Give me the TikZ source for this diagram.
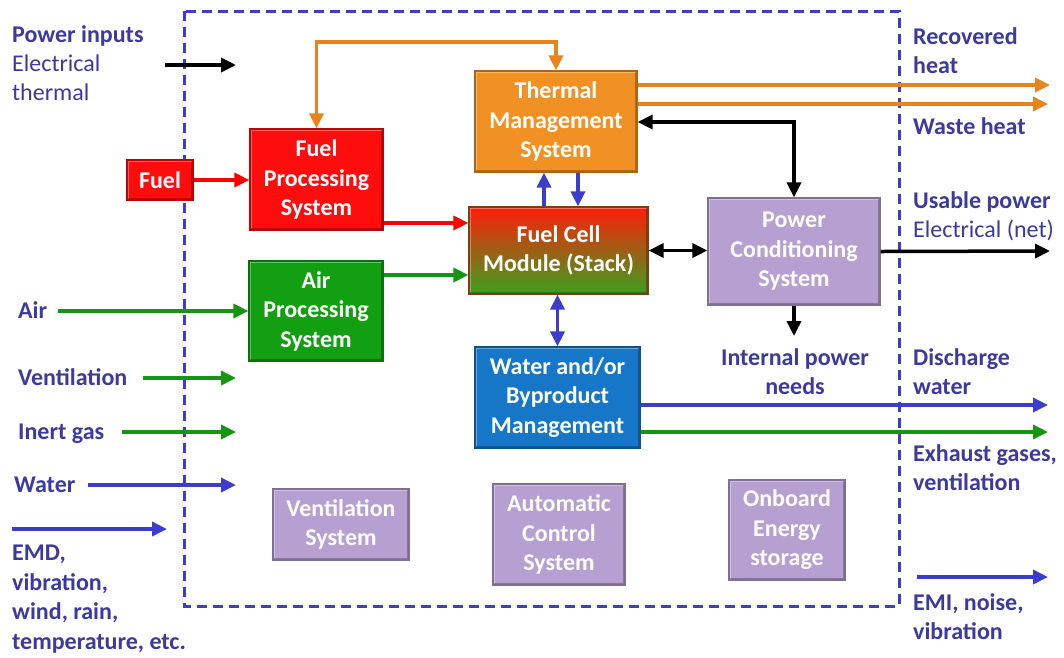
\documentclass[tikz,border=0pt]{standalone}
\usepackage{fontspec}
\setmainfont{Carlito}
\usetikzlibrary{arrows.meta}
\definecolor{lbl}{RGB}{58,58,160}
\definecolor{dashc}{RGB}{60,60,210}
\definecolor{bluearr}{RGB}{60,60,205}
\definecolor{grn}{RGB}{20,150,20}
\definecolor{org}{RGB}{232,132,30}
\definecolor{redbox}{RGB}{255,12,12}
\definecolor{grnbox}{RGB}{18,160,18}
\definecolor{orgbox}{RGB}{242,145,35}
\definecolor{bluebox}{RGB}{22,118,200}
\definecolor{lav}{RGB}{182,160,210}
\definecolor{fcmtop}{RGB}{255,30,10}
\definecolor{fcmmid}{RGB}{205,105,20}
\definecolor{fcmbot}{RGB}{60,160,30}
\tikzset{
 bevel/.style={path picture={
   \draw[white,opacity=0.35,line width=4pt]
     (path picture bounding box.south west) -- (path picture bounding box.north west)
     -- (path picture bounding box.north east);
   \draw[black,opacity=0.25,line width=4pt]
     (path picture bounding box.north east) -- (path picture bounding box.south east)
     -- (path picture bounding box.south west);}},
 boxtext/.style={text=white, font=\fontsize{24}{29.5}\selectfont\bfseries, align=center, inner sep=0pt},
 box/.style={boxtext, draw=#1!70!black, fill=#1, line width=1.2pt, bevel},
 fcmbox/.style={boxtext, draw=fcmmid!60!black, line width=1.2pt, top color=fcmtop, middle color=fcmmid, bottom color=fcmbot, bevel},
 lab/.style={text=lbl, font=\fontsize{24}{29.2}\selectfont\bfseries, align=left, anchor=base west, inner sep=0pt},
 labc/.style={lab, align=center, anchor=base},
 arr/.style={line width=3.5pt, -{Triangle[length=15pt,width=14pt]}},
 darr/.style={line width=3.5pt, {Triangle[length=15pt,width=14pt]}-{Triangle[length=15pt,width=14pt]}},
}
\begin{document}
\begin{tikzpicture}[x=1pt,y=-1pt]
\useasboundingbox[fill=white] (0,0) rectangle (1064,657);
% dashed frame
\draw[dashc, line width=3pt, dash pattern=on 10pt off 6pt] (184,11) rectangle (899,606);

% boxes
\node[box=redbox, minimum width=66pt, minimum height=40pt] (fuel) at (160,180) {Fuel};
\node[box=redbox, minimum width=133pt, minimum height=101pt] (fps) at (316.5,179.5) {Fuel\\Processing\\System};
\node[box=orgbox, minimum width=162pt, minimum height=101pt] (tms) at (556,121.5) {Thermal\\Management\\System};
\node[fcmbox, minimum width=179pt, minimum height=87pt] (fcm) at (558.5,250.5) {Fuel Cell\\Module (Stack)};
\node[box=grnbox, minimum width=134pt, minimum height=100pt] (aps) at (316,311) {Air\\Processing\\System};
\node[box=lav, minimum width=172pt, minimum height=107pt] (pcs) at (794,251.5) {Power\\Conditioning\\System};
\node[box=bluebox, minimum width=165pt, minimum height=101pt] (wbm) at (557.5,397.5) {Water and/or\\Byproduct\\Management};
\node[box=lav, minimum width=136pt, minimum height=71pt] (vs) at (341,524.5) {Ventilation\\System};
\node[box=lav, minimum width=132pt, minimum height=101pt] (acs) at (559,534.5) {Automatic\\Control\\System};
\node[box=lav, minimum width=116pt, minimum height=100pt] (oes) at (787,530) {Onboard\\Energy\\storage};

% labels (base anchor = baseline of last line)
\node[lab] (lpow) at (12,100.5) {Power inputs\\\mdseries Electrical\\\mdseries thermal};
\node[lab] (lrec) at (913,73.5) {Recovered\\heat};
\node[lab] (lwaste) at (913,134.5) {Waste heat};
\node[lab] (luse) at (913,237.5) {Usable power\\\mdseries Electrical (net)};
\node[lab] (lair) at (18,318.5) {Air};
\node[lab] (lvent) at (18,385.5) {Ventilation};
\node[lab] (linert) at (18,439.5) {Inert gas};
\node[lab] (lwater) at (14,492.5) {Water};
\node[lab, font=\fontsize{24}{29.7}\selectfont\bfseries] (lemd) at (12,649.5) {EMD,\\vibration,\\wind, rain,\\temperature, etc.};
\node[labc] (lint) at (795,394.5) {Internal power\\needs};
\node[lab] (ldis) at (913,394.5) {Discharge\\water};
\node[lab] (lexh) at (913,490.5) {Exhaust gases,\\ventilation};
\node[lab] (lemi) at (913,639.5) {EMI, noise,\\vibration};

% coordinates for free ends and levels
\coordinate (pin0) at (165,65);   \coordinate (pin1) at (236,65);
\coordinate (air0) at (58,311);
\coordinate (ven0) at (143,378);  \coordinate (ven1) at (236,378);
\coordinate (ine0) at (122,432);  \coordinate (ine1) at (236,432);
\coordinate (wat0) at (88,485);   \coordinate (wat1) at (236,485);
\coordinate (emd0) at (12,529);   \coordinate (emd1) at (167,529);
\coordinate (emi0) at (917,577);  \coordinate (emi1) at (1048,577);
\coordinate (otop) at (0,42);
\coordinate (yred) at (0,223);
\coordinate (ygrn) at (0,275);
\coordinate (yh1) at (0,85);      \coordinate (h1end) at (1050,85);
\coordinate (yh2) at (0,104);     \coordinate (h2end) at (1048,104);
\coordinate (yblk) at (0,122);
\coordinate (uend) at (1050,251);
\coordinate (ipn) at (794,336);
\coordinate (yw1) at (0,405);     \coordinate (w1end) at (1048,405);
\coordinate (yw2) at (0,432);     \coordinate (w2end) at (1048,432);
\coordinate (xup) at (544,0);     \coordinate (xdn) at (578,0);

% connectors
\draw[arr, black] (pin0) -- (pin1);
\draw[arr, red] (fuel.east) -- (fuel.east -| fps.west);
\draw[arr, red] (fps.east |- yred) -- (fcm.west |- yred);
\draw[arr, grn] (aps.east |- ygrn) -- (fcm.west |- ygrn);
\draw[darr, org] (fps.north) -- (fps.north |- otop) -| (tms.north);
\draw[arr, bluearr] (fcm.north -| xup) -- (tms.south -| xup);
\draw[arr, bluearr] (tms.south -| xdn) -- (fcm.north -| xdn);
\draw[darr, black] (fcm.east) -- (fcm.east -| pcs.west);
\draw[darr, black] (tms.east |- yblk) -| (pcs.north);
\draw[darr, bluearr] (wbm.north) -- (wbm.north |- fcm.south);
\draw[arr, org] (tms.east |- yh1) -- (h1end);
\draw[arr, org] (tms.east |- yh2) -- (h2end);
\draw[arr, black] (pcs.east) -- (uend);
\draw[arr, black] (pcs.south) -- (ipn);
\draw[arr, bluearr] (wbm.east |- yw1) -- (w1end);
\draw[arr, grn] (wbm.east |- yw2) -- (w2end);
\draw[arr, grn] (air0) -- (aps.west |- air0);
\draw[arr, grn] (ven0) -- (ven1);
\draw[arr, grn] (ine0) -- (ine1);
\draw[arr, bluearr] (wat0) -- (wat1);
\draw[arr, bluearr] (emd0) -- (emd1);
\draw[arr, bluearr] (emi0) -- (emi1);
\end{tikzpicture}
\end{document}
